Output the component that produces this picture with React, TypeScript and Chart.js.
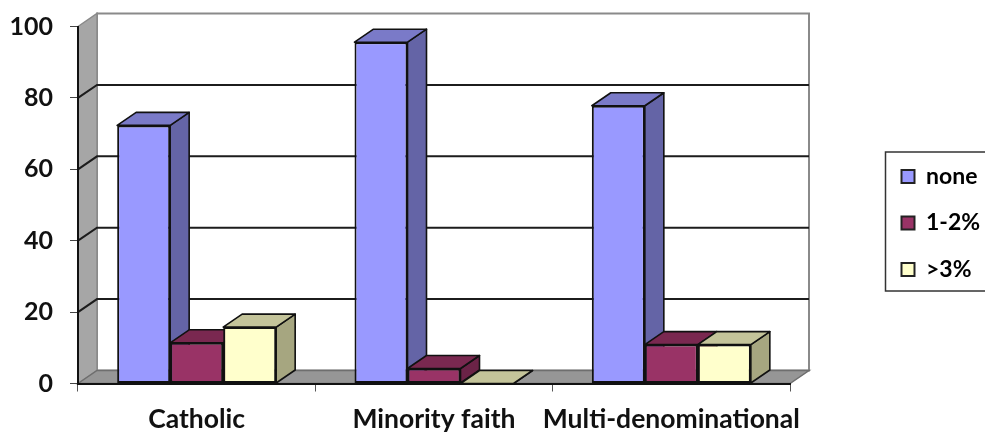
import { useEffect, useRef } from "react";
import { Chart, registerables } from "chart.js";

Chart.register(...registerables);

const categories = ["Catholic", "Minority faith", "Multi-denominational"];
const none = [72.3, 95.6, 77.8];
const low = [11.4, 4.2, 10.9];
const high = [15.8, 0, 10.9];
const yTicks = [0, 20, 40, 60, 80, 100];

const frontColors = ["#9999FF", "#993366", "#FFFFCC"];
const sideColors = ["#6464A6", "#6B2347", "#A6A680"];
const topColors = ["#7A7AC8", "#7A2850", "#C4C49A"];

const DX = 19;
const DY = -13;
const FONT = "Lato, 'Noto Sans', sans-serif";
const INK = "#111111";

function poly(ctx: CanvasRenderingContext2D, pts: number[][], fill: string | null, stroke: string | null, lw = 2) {
  ctx.beginPath();
  pts.forEach((p, i) => (i ? ctx.lineTo(p[0], p[1]) : ctx.moveTo(p[0], p[1])));
  ctx.closePath();
  if (fill) {
    ctx.fillStyle = fill;
    ctx.fill();
  }
  if (stroke) {
    ctx.strokeStyle = stroke;
    ctx.lineWidth = lw;
    ctx.stroke();
  }
}

const threeD = {
  id: "threeD",
  beforeDraw(chart: any) {
    const { ctx, chartArea: a, scales } = chart;
    const y = scales.y;
    const top = y.getPixelForValue(100);
    const base = y.getPixelForValue(0);
    ctx.save();
    // back wall
    poly(ctx, [[a.left + DX, top + DY], [a.right + DX, top + DY], [a.right + DX, base + DY], [a.left + DX, base + DY]], "#FFFFFF", "#8A8A8A", 2);
    // side wall
    poly(ctx, [[a.left, top], [a.left + DX, top + DY], [a.left + DX, base + DY], [a.left, base]], "#A6A6A6", "#8A8A8A", 1.5);
    // floor
    poly(ctx, [[a.left, base], [a.left + DX, base + DY], [a.right + DX, base + DY], [a.right, base]], "#969696", "#6E6E6E", 1.5);
    // grid lines
    yTicks.forEach((v) => {
      if (v === 0 || v === 100) return;
      const py = y.getPixelForValue(v);
      ctx.strokeStyle = "#1C1C1C";
      ctx.lineWidth = 2;
      ctx.beginPath();
      ctx.moveTo(a.left, py);
      ctx.lineTo(a.left + DX, py + DY);
      ctx.lineTo(a.right + DX, py + DY);
      ctx.stroke();
    });
    ctx.restore();
  },
  beforeDatasetsDraw(chart: any) {
    const { ctx } = chart;
    ctx.save();
    ctx.lineJoin = "round";
    categories.forEach((_, j) => {
      chart.data.datasets.forEach((_d: any, i: number) => {
        const bar = chart.getDatasetMeta(i).data[j];
        const l = bar.x - bar.width / 2;
        const r = bar.x + bar.width / 2;
        const t = bar.y;
        const b = bar.base;
        poly(ctx, [[r, t], [r + DX, t + DY], [r + DX, b + DY], [r, b]], sideColors[i], INK, 1.6);
        poly(ctx, [[l, t], [l + DX, t + DY], [r + DX, t + DY], [r, t]], topColors[i], INK, 1.6);
      });
    });
    ctx.restore();
  },
  afterLayout(chart: any) {
    const lg = chart.legend;
    lg.left = 878;
    lg.right = 985;
    lg.top = 141.5;
    lg.bottom = 320;
    lg.width = lg.right - lg.left;
    lg.height = lg.bottom - lg.top;
    lg.adjustHitBoxes();
  },
  afterDraw(chart: any) {
    const { ctx } = chart;
    ctx.save();
    ctx.strokeStyle = "#333333";
    ctx.lineWidth = 1.5;
    ctx.strokeRect(885.5, 152, 110, 139);
    ctx.restore();
  },
};

export default function App() {
  const ref = useRef<HTMLCanvasElement>(null);
  useEffect(() => {
    document.body.style.margin = "0";
    document.body.style.background = "#FFFFFF";
    const chart = new Chart(ref.current!, {
      type: "bar",
      data: {
        labels: categories,
        datasets: [
          { label: "none", data: none },
          { label: "1-2%", data: low },
          { label: ">3%", data: high },
        ].map((d, i) => ({
          ...d,
          backgroundColor: frontColors[i],
          borderColor: INK,
          borderWidth: 2,
          borderSkipped: false,
          categoryPercentage: 0.67,
          barPercentage: 1,
        })),
      },
      options: {
        responsive: false,
        animation: false,
        layout: { autoPadding: false, padding: { top: 26.5, right: 195, left: 0, bottom: 0 } },
        scales: {
          x: {
            afterFit: (s: any) => {
              s.height = 49.5;
            },
            grid: { offset: true, drawOnChartArea: false, drawTicks: true, tickLength: 8, color: "#555555", lineWidth: 1 },
            border: { color: INK, width: 2 },
            ticks: { color: INK, padding: 12, maxRotation: 0, autoSkip: false, font: { family: FONT, size: 26.5, weight: "bold" } },
          },
          y: {
            min: 0,
            max: 100,
            afterFit: (s: any) => {
              s.width = 78;
              s.paddingTop = 0;
              s.paddingBottom = 0;
            },
            afterBuildTicks: (s: any) => {
              s.ticks = yTicks.map((value) => ({ value }));
            },
            grid: { drawOnChartArea: false, drawTicks: true, tickLength: 8, color: "#444444", lineWidth: 1 },
            border: { color: INK, width: 2 },
            ticks: { color: INK, padding: 17, font: { family: FONT, size: 25, weight: "bold" } },
          },
        },
        plugins: {
          tooltip: { enabled: false },
          legend: {
            position: "chartArea",
            align: "start",
            labels: {
              boxWidth: 13,
              boxHeight: 13,
              padding: 23.5,
              color: INK,
              font: { family: FONT, size: 23, weight: "bold" },
              generateLabels: (c: any) =>
                c.data.datasets.map((d: any, i: number) => ({
                  text: d.label,
                  fillStyle: frontColors[i],
                  strokeStyle: "#222222",
                  lineWidth: 2,
                  datasetIndex: i,
                })),
            },
          },
        },
      } as any,
      plugins: [threeD],
    });
    return () => chart.destroy();
  }, []);
  return (
    <div style={{ width: 985, height: 433, overflow: "hidden" }}>
      <canvas ref={ref} width={985} height={433} style={{ display: "block" }} />
    </div>
  );
}
